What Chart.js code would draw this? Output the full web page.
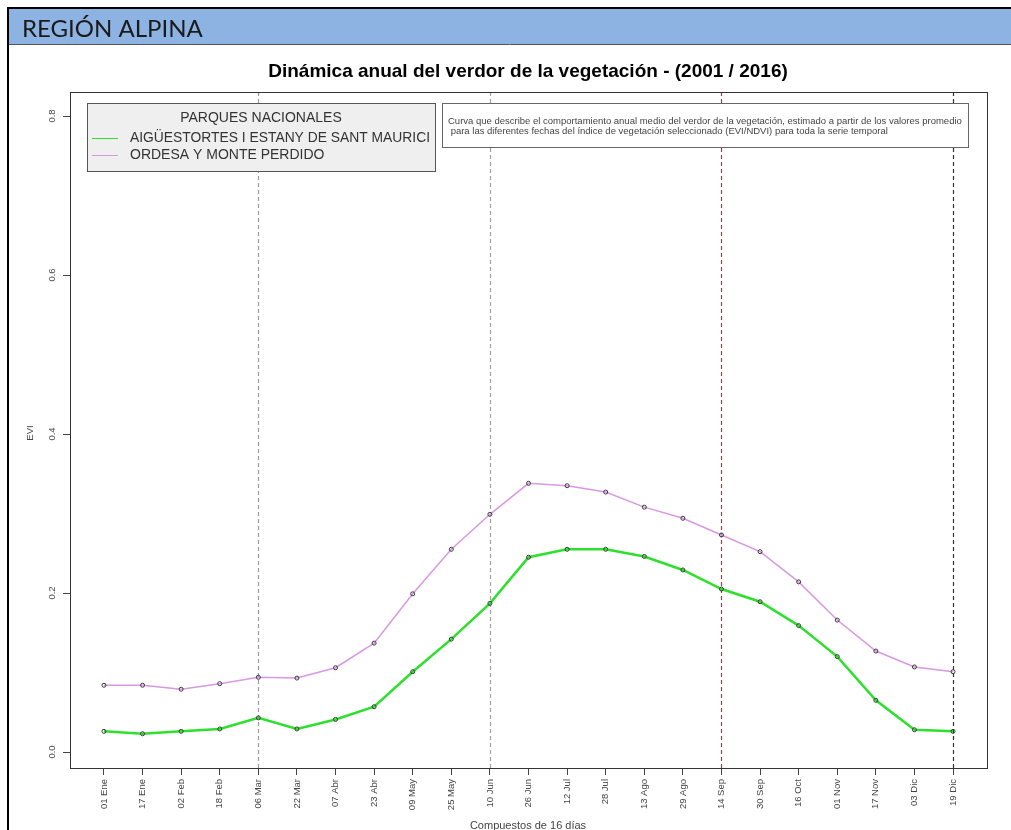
<!DOCTYPE html>
<html>
<head>
<meta charset="utf-8">
<title>Región Alpina - Dinámica anual del verdor</title>
<script src="https://cdn.jsdelivr.net/npm/chart.js@4.4.1/dist/chart.umd.min.js"></script>
<style>
  html, body { margin: 0; padding: 0; background: #fff; }
</style>
</head>
<body>
<canvas id="evi" width="1011" height="830"></canvas>
<script>
// fechas de los compuestos de 16 días
const fechas = ['01 Ene', '17 Ene', '02 Feb', '18 Feb', '06 Mar', '22 Mar', '07 Abr', '23 Abr',
  '09 May', '25 May', '10 Jun', '26 Jun', '12 Jul', '28 Jul', '13 Ago', '29 Ago',
  '14 Sep', '30 Sep', '16 Oct', '01 Nov', '17 Nov', '03 Dic', '19 Dic'];

// EVI medio 2001-2016
const aiguestortes = [0.026, 0.023, 0.026, 0.029, 0.043, 0.029, 0.041, 0.057,
  0.101, 0.142, 0.187, 0.245, 0.255, 0.255, 0.246, 0.229,
  0.205, 0.189, 0.159, 0.120, 0.065, 0.028, 0.026];
const ordesa = [0.084, 0.084, 0.079, 0.086, 0.094, 0.093, 0.106, 0.137,
  0.199, 0.255, 0.299, 0.338, 0.335, 0.327, 0.308, 0.294,
  0.273, 0.252, 0.214, 0.166, 0.127, 0.107, 0.101];

const yTicks = [0, 0.2, 0.4, 0.6, 0.8];
const parques = ['AIGÜESTORTES I ESTANY DE SANT MAURICI', 'ORDESA Y MONTE PERDIDO'];
const marcas = ['06 Mar', '10 Jun', '14 Sep', '19 Dic'];

const colorMarcas = ['#9a9a9a', '#a0a0a0', '#e0203a', '#333333'];
const colorParques = ['#2ee02e', '#d898e2'];
const fuente = '"Liberation Sans", Arial, sans-serif';

// header, borders, texts, boxes and rotated tick labels
const decoracion = {
  id: 'decoracion',
  beforeDraw(chart) {
    const ctx = chart.ctx;
    ctx.save();
    ctx.fillStyle = '#fff';
    ctx.fillRect(0, 0, chart.width, chart.height);
    // barra de la región
    ctx.fillStyle = '#8db3e2';
    ctx.fillRect(8, 8, chart.width - 8, 36);
    ctx.strokeStyle = '#555';
    ctx.lineWidth = 1;
    ctx.beginPath();
    ctx.moveTo(8, 44.5); ctx.lineTo(chart.width, 44.5);
    ctx.stroke();
    ctx.strokeStyle = '#000';
    ctx.lineWidth = 2;
    ctx.beginPath();
    ctx.moveTo(7, 8); ctx.lineTo(chart.width, 8);
    ctx.moveTo(8, 7); ctx.lineTo(8, chart.height);
    ctx.stroke();
    ctx.fillStyle = '#1a1a1a';
    ctx.font = '24px Lato, "Open Sans", sans-serif';
    ctx.textBaseline = 'alphabetic';
    ctx.fillText('REGIÓN ALPINA', 22, 37, 188);

    // título
    ctx.fillStyle = '#000';
    ctx.font = 'bold 19px ' + fuente;
    ctx.textAlign = 'center';
    ctx.textBaseline = 'middle';
    ctx.fillText('Dinámica anual del verdor de la vegetación - (2001 / 2016)', 528, 72, 534);
    ctx.restore();
  },
  beforeDatasetsDraw(chart) {
    const ctx = chart.ctx, a = chart.chartArea, x = chart.scales.x;
    ctx.save();
    ctx.lineWidth = 1.2;
    ctx.setLineDash([4, 3]);
    marcas.forEach((m, i) => {
      const px = Math.round(x.getPixelForValue(fechas.indexOf(m))) + 0.5;
      ctx.strokeStyle = colorMarcas[i];
      ctx.beginPath();
      ctx.moveTo(px, a.top); ctx.lineTo(px, a.bottom);
      ctx.stroke();
    });
    ctx.restore();
  },
  afterDraw(chart) {
    const ctx = chart.ctx, a = chart.chartArea;
    const x = chart.scales.x, y = chart.scales.y;
    ctx.save();
    // marco del gráfico
    ctx.strokeStyle = '#333';
    ctx.lineWidth = 1;
    ctx.strokeRect(Math.round(a.left) + 0.5, Math.round(a.top) + 0.5,
      Math.round(a.right - a.left), Math.round(a.bottom - a.top));

    // etiquetas de los ejes
    ctx.fillStyle = '#444';
    ctx.font = '9.5px ' + fuente;
    ctx.textBaseline = 'middle';
    yTicks.forEach(v => {
      ctx.save();
      ctx.translate(52, y.getPixelForValue(v));
      ctx.rotate(-Math.PI / 2);
      ctx.textAlign = 'center';
      ctx.fillText(v.toFixed(1), 0, 0);
      ctx.restore();
    });
    fechas.forEach((f, i) => {
      ctx.save();
      ctx.translate(x.getPixelForValue(i), a.bottom + 11);
      ctx.rotate(-Math.PI / 2);
      ctx.textAlign = 'right';
      ctx.fillText(f, 0, 0);
      ctx.restore();
    });
    ctx.save();
    ctx.translate(30, 433);
    ctx.rotate(-Math.PI / 2);
    ctx.textAlign = 'center';
    ctx.fillText('EVI', 0, 0);
    ctx.restore();
    ctx.font = '11px ' + fuente;
    ctx.textAlign = 'center';
    ctx.fillText('Compuestos de 16 días', 528, 826);

    // leyenda
    ctx.fillStyle = '#efefef';
    ctx.fillRect(87.5, 103.5, 348, 68);
    ctx.strokeStyle = '#555';
    ctx.strokeRect(87.5, 103.5, 348, 68);
    ctx.fillStyle = '#333';
    ctx.font = '14px ' + fuente;
    ctx.textAlign = 'center';
    ctx.fillText('PARQUES NACIONALES', 261, 118, 162);
    ctx.textAlign = 'left';
    parques.forEach((p, i) => {
      const py = 138 + i * 17;
      ctx.strokeStyle = colorParques[i];
      ctx.lineWidth = 1;
      ctx.beginPath();
      ctx.moveTo(92, py + 0.5); ctx.lineTo(118, py + 0.5);
      ctx.stroke();
      ctx.fillStyle = '#333';
      ctx.fillText(p, 130, py, 300);
    });

    // nota
    ctx.fillStyle = '#fff';
    ctx.fillRect(442.5, 103.5, 526, 44);
    ctx.strokeStyle = '#666';
    ctx.strokeRect(442.5, 103.5, 526, 44);
    ctx.fillStyle = '#444';
    ctx.font = '9.5px ' + fuente;
    ctx.fillText('Curva que describe el comportamiento anual medio del verdor de la vegetación, estimado a partir de los valores promedio', 448, 121, 517);
    ctx.fillText(' para las diferentes fechas del índice de vegetación seleccionado (EVI/NDVI) para toda la serie temporal', 448, 131, 517);
    ctx.restore();
  }
};

const puntos = serie => serie.map((v, i) => ({ x: i, y: v }));

new Chart(document.getElementById('evi'), {
  type: 'line',
  data: {
    datasets: [
      {
        label: parques[0],
        data: puntos(aiguestortes),
        borderColor: colorParques[0],
        borderWidth: 2.5,
        pointRadius: 2,
        pointBorderColor: '#3a3a3a',
        pointBorderWidth: 1,
        pointBackgroundColor: 'rgba(0,0,0,0)',
        tension: 0,
        order: 0
      },
      {
        label: parques[1],
        data: puntos(ordesa),
        borderColor: colorParques[1],
        borderWidth: 1.5,
        pointRadius: 2,
        pointBorderColor: '#3a3a3a',
        pointBorderWidth: 1,
        pointBackgroundColor: 'rgba(0,0,0,0)',
        tension: 0,
        order: 1
      }
    ]
  },
  options: {
    responsive: false,
    animation: false,
    devicePixelRatio: 1,
    layout: { padding: { top: 92, right: 24, left: 0, bottom: 0 } },
    plugins: {
      legend: { display: false },
      title: { display: false },
      tooltip: { enabled: false }
    },
    scales: {
      x: {
        type: 'linear',
        min: -0.88,
        max: 22.88,
        afterBuildTicks: s => { s.ticks = fechas.map((f, i) => ({ value: i })); },
        afterFit: s => { s.height = 62; },
        ticks: { display: false },
        border: { display: false },
        grid: { drawOnChartArea: false, drawTicks: true, tickLength: 7, color: '#444' }
      },
      y: {
        min: -0.0201,
        max: 0.8302,
        afterBuildTicks: s => { s.ticks = yTicks.map(v => ({ value: v })); },
        afterFit: s => { s.width = 70; },
        ticks: { display: false },
        border: { display: false },
        grid: { drawOnChartArea: false, drawTicks: true, tickLength: 7, color: '#444' }
      }
    }
  },
  plugins: [decoracion]
});
</script>
</body>
</html>
